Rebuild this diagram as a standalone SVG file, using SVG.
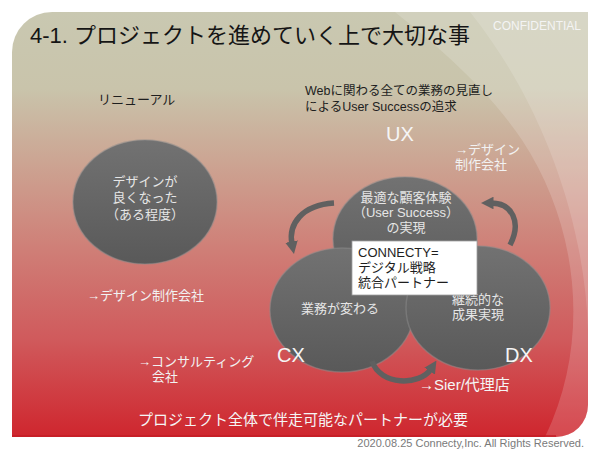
<svg xmlns="http://www.w3.org/2000/svg" width="600" height="450" viewBox="0 0 600 450">
<defs>
<linearGradient id="bg" x1="0" y1="0" x2="0" y2="1">
<stop offset="0" stop-color="#c9c8b1"/>
<stop offset="0.18" stop-color="#c9c4ab"/>
<stop offset="0.35" stop-color="#cca593"/>
<stop offset="0.55" stop-color="#cf8078"/>
<stop offset="0.77" stop-color="#d05a5c"/>
<stop offset="1" stop-color="#cf262e"/>
</linearGradient>
<linearGradient id="ball" x1="0" y1="0" x2="0" y2="1">
<stop offset="0" stop-color="#727272"/>
<stop offset="1" stop-color="#595959"/>
</linearGradient>
<marker id="ah" viewBox="0 0 10 10" refX="2" refY="5" markerWidth="2.3" markerHeight="2.3" orient="auto" markerUnits="strokeWidth">
<path d="M0,0 L10,5 L0,10 Z" fill="#606060"/>
</marker>
</defs>
<style>
text{font-family:"Liberation Sans","Noto Sans CJK JP",sans-serif;}
.w{fill:#f2f2f2;font-size:13px;}
.wc{fill:#e6e6e6;font-size:13px;text-anchor:middle;}
.k{fill:#1e1e1e;font-size:13px;}
.big{fill:#f5f5f5;font-size:20px;}
.ball{fill:url(#ball);stroke:#8c8c8c;stroke-opacity:0.5;stroke-width:1.5;}
.arr{fill:none;stroke:#606060;stroke-width:5.5;marker-end:url(#ah);}
</style>
<rect width="600" height="450" fill="#ffffff"/>
<g id="panel">
<path d="M12,52 A40,40 0 0 1 52,12 L588,12 L588,405 A32,32 0 0 1 556,437 L12,437 Z" fill="url(#bg)"/>
<path d="M395,12 L588,12 L588,405 A32,32 0 0 1 556,437 L545,437 C592,340 578,225 522,140 C485,85 432,42 395,12 Z" fill="#ffffff" fill-opacity="0.16"/>
<path d="M470,12 L588,12 L588,330 C585,230 548,110 470,12 Z" fill="#ffffff" fill-opacity="0.14"/>
<path d="M12,436 L556,436" stroke="#c41e26" stroke-width="1.5"/>
</g>
<text x="30" y="43" style="font-size:22px;fill:#151515;">4-1. プロジェクトを進めていく上で大切な事</text>
<text x="493" y="30" style="font-size:12px;fill:#f4f4f4;">CONFIDENTIAL</text>
<text class="k" x="98" y="104">リニューアル</text>
<text x="305" y="95" style="font-size:12.5px;fill:#1e1e1e;">Webに関わる全ての業務の見直し</text>
<text x="305" y="111" style="font-size:12.5px;fill:#1e1e1e;">によるUser Successの追求</text>
<g id="node-renewal">
<ellipse class="ball" cx="145" cy="202" rx="72" ry="62"/>
<text class="wc" x="145" y="186">デザインが</text>
<text class="wc" x="145" y="202">良くなった</text>
<text class="wc" x="145" y="219">（ある程度）</text>
</g>
<text class="w" x="87" y="300">→デザイン制作会社</text>
<text class="big" x="386" y="141">UX</text>
<text class="w" x="455" y="154">→デザイン</text>
<text class="w" x="455" y="169">制作会社</text>
<g id="node-ux">
<ellipse class="ball" cx="405" cy="239" rx="72" ry="62"/>
<text class="wc" x="406" y="202">最適な顧客体験</text>
<text class="wc" x="406" y="217">（User Success）</text>
<text class="wc" x="406" y="232">の実現</text>
</g>
<g id="node-cx">
<ellipse class="ball" cx="342" cy="310" rx="72" ry="62"/>
<text class="wc" x="340" y="313">業務が変わる</text>
</g>
<g id="node-dx">
<ellipse class="ball" cx="478" cy="308" rx="72" ry="62"/>
<text class="wc" x="478" y="304">継続的な</text>
<text class="wc" x="478" y="319">成果実現</text>
</g>
<g id="connectors">
<path class="arr" d="M334,203 C302,205 288,224 292,244"/>
<path class="arr" d="M510,245 C522,222 512,203 491,203"/>
<path class="arr" d="M372,361 C380,386 420,386 431,369"/>
</g>
<g id="node-connecty">
<rect x="352" y="241" width="125" height="54" fill="#ffffff" stroke="#a0a0a0" stroke-width="0.8"/>
<text class="k" x="358" y="257">CONNECTY=</text>
<text class="k" x="358" y="272">デジタル戦略</text>
<text class="k" x="358" y="287">統合パートナー</text>
</g>
<text class="big" x="277" y="362">CX</text>
<text class="big" x="505" y="362">DX</text>
<text x="419" y="390" style="font-size:15px;fill:#f5f5f5;">→Sier/代理店</text>
<text class="w" x="138" y="366">→コンサルティング</text>
<text class="w" x="152" y="381">会社</text>
<text x="138" y="425" style="font-size:15px;fill:#f5f5f5;">プロジェクト全体で伴走可能なパートナーが必要</text>
<text x="584" y="447" style="font-size:11px;fill:#7a7a7a;text-anchor:end;">2020.08.25 Connecty,Inc. All Rights Reserved.</text>
</svg>
